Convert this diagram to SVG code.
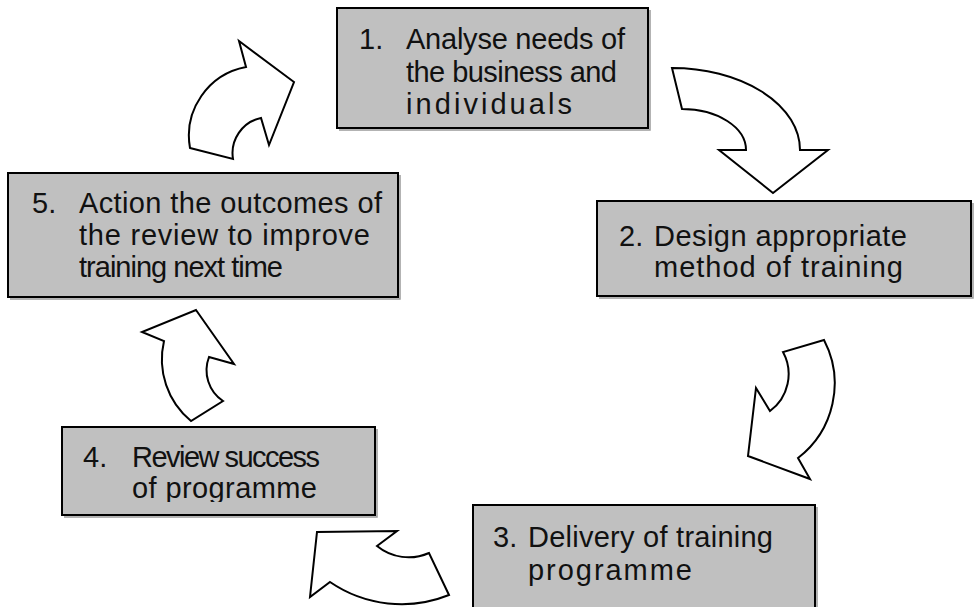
<svg xmlns="http://www.w3.org/2000/svg" width="974" height="607" viewBox="0 0 974 607">
  <style>
    .box { fill: #c0c0c0; stroke: #000; stroke-width: 2; }
    .shadow { fill: none; stroke: #9a9a9a; stroke-width: 1.5; }
    .label { font-family: "Liberation Sans", Arial, sans-serif; font-size: 29px; fill: #111; }
    .arrow { fill: #fff; stroke: #000; stroke-width: 2; stroke-linejoin: miter; }
  </style>
  <defs>
    <clipPath id="clip-step4">
      <rect x="62" y="427" width="313" height="75"/>
    </clipPath>
  </defs>
  <rect width="974" height="607" fill="#fff"/>

  <!-- curved block arrows linking the steps -->
  <g id="connectors">
    <path class="arrow" d="M672,68 A128,82 0 0 1 800,150 L828,150 L773,193 L719,150 L746,150 A64,41 0 0 0 682,109 Z"/>
    <path class="arrow" d="M824,340 L783,352 A46,46 0 0 1 770,411 L756,388 L748,456 L810,479 L798,458 A94,94 0 0 0 824,340 Z"/>
    <path class="arrow" d="M449,595 L429,553 A50,50 0 0 1 377,546 L397,531 L317,532 L310,597 L330,582 A127,127 0 0 0 449,595 Z"/>
    <path class="arrow" d="M196,310 L234,364 L209,357 A37,37 0 0 0 223,401 L191,421 A80,80 0 0 1 164,341 L142,332 Z"/>
    <path class="arrow" d="M190,148 L233,159 A36,36 0 0 1 261,118 L269,145 L294,82 L239,41 L246,67 A70,70 0 0 0 190,148 Z"/>
  </g>

  <g id="step1">
    <polyline class="shadow" points="650,10 650,130 339,130"/>
    <rect class="box" x="337" y="8" width="311" height="120"/>
    <text class="label" x="359" y="49">1.</text>
    <text class="label" x="406" y="49" textLength="219" lengthAdjust="spacing">Analyse needs of</text>
    <text class="label" x="406" y="82" textLength="211" lengthAdjust="spacing">the business and</text>
    <text class="label" x="406" y="114" textLength="166" lengthAdjust="spacing">individuals</text>
  </g>

  <g id="step2">
    <polyline class="shadow" points="973,203 973,298 599,298"/>
    <rect class="box" x="597" y="201" width="374" height="95"/>
    <text class="label" x="619" y="246">2.</text>
    <text class="label" x="654" y="246" textLength="253" lengthAdjust="spacing">Design appropriate</text>
    <text class="label" x="654" y="277" textLength="249" lengthAdjust="spacing">method of training</text>
  </g>

  <g id="step3">
    <polyline class="shadow" points="817,507 817,610"/>
    <rect class="box" x="473" y="505" width="342" height="110"/>
    <text class="label" x="493" y="547">3.</text>
    <text class="label" x="528" y="547" textLength="245" lengthAdjust="spacing">Delivery of training</text>
    <text class="label" x="528" y="580" textLength="164" lengthAdjust="spacing">programme</text>
  </g>

  <g id="step4">
    <polyline class="shadow" points="377,429 377,517 64,517"/>
    <rect class="box" x="62" y="427" width="313" height="88"/>
    <g clip-path="url(#clip-step4)">
      <text class="label" x="83" y="467">4.</text>
      <text class="label" x="132" y="467" textLength="188" lengthAdjust="spacing">Review success</text>
      <text class="label" x="132" y="498" textLength="185" lengthAdjust="spacing">of programme</text>
    </g>
  </g>

  <g id="step5">
    <polyline class="shadow" points="400,175 400,299 10,299"/>
    <rect class="box" x="8" y="173" width="390" height="124"/>
    <text class="label" x="32" y="213">5.</text>
    <text class="label" x="79" y="213" textLength="303" lengthAdjust="spacing">Action the outcomes of</text>
    <text class="label" x="79" y="245" textLength="291" lengthAdjust="spacing">the review to improve</text>
    <text class="label" x="79" y="277" textLength="204" lengthAdjust="spacing">training next time</text>
  </g>
</svg>
